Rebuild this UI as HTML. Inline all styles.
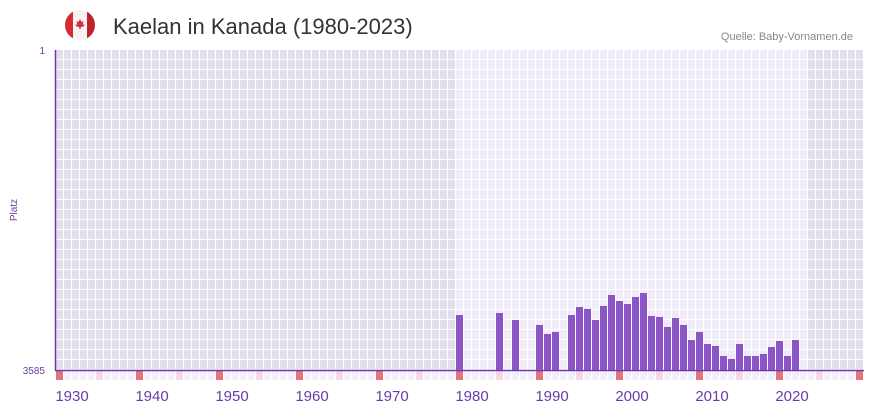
<!DOCTYPE html>
<html><head><meta charset="utf-8"><style>
body{margin:0;background:#fff;width:873px;height:412px;overflow:hidden;font-family:"Liberation Sans",sans-serif}
</style></head><body>
<svg width="873" height="412" xmlns="http://www.w3.org/2000/svg">
<defs>
<pattern id="pd" x="56" y="50" width="8" height="10" patternUnits="userSpaceOnUse"><rect width="8" height="10" fill="#fff"/><rect width="7" height="9" fill="#e3deec"/></pattern>
<pattern id="pl" x="56" y="50" width="8" height="10" patternUnits="userSpaceOnUse"><rect width="8" height="10" fill="#fff"/><rect width="7" height="9" fill="#efebf8"/></pattern>
<pattern id="pb" x="56" y="371" width="8" height="9" patternUnits="userSpaceOnUse"><rect width="8" height="9" fill="#fff"/><rect width="7" height="9" fill="#f3eefb"/></pattern>
<clipPath id="fc"><circle cx="80" cy="25" r="15"/></clipPath>
</defs>
<g clip-path="url(#fc)">
<rect x="65" y="10" width="30" height="30" fill="#f4f4f4"/>
<rect x="65" y="10" width="8" height="30" fill="#d52b33"/>
<rect x="87" y="10" width="8" height="30" fill="#c0222a"/>
</g>
<path d="M80 19 l1.5 3 2-1 -0.8 4 2-1 -1 2.5 -3 0.5 v2 h-1.4 v-2 l-3-0.5 -1-2.5 2 1 -0.8-4 2 1z" fill="#d52b33"/>
<text x="113" y="34" font-size="22" fill="#333">Kaelan in Kanada (1980-2023)</text>
<text x="853" y="40" font-size="11" fill="#888" text-anchor="end">Quelle: Baby-Vornamen.de</text>
<rect x="56" y="50" width="400" height="320" fill="url(#pd)"/>
<rect x="456" y="50" width="352" height="320" fill="url(#pl)"/>
<rect x="808" y="50" width="56" height="320" fill="url(#pd)"/>
<rect x="56" y="371" width="808" height="9" fill="url(#pb)"/>
<g id="marks"></g>
<line x1="55.5" y1="50" x2="55.5" y2="371" stroke="#6a3aa8" stroke-width="1.5"/>
<line x1="55" y1="370.5" x2="864" y2="370.5" stroke="#6a3aa8" stroke-width="1.5"/>
<g fill="#8b55c8" id="bars"></g>
<text x="45" y="54" font-size="10" fill="#6a3aa8" text-anchor="end">1</text>
<text x="45" y="374" font-size="10" fill="#6a3aa8" text-anchor="end">3585</text>
<text x="17" y="210" font-size="10" fill="#6a3aa8" text-anchor="middle" transform="rotate(-90 17 210)">Platz</text>
<g font-size="15" fill="#6a3aa8" text-anchor="middle" id="xl"></g>
</svg>
<script>
const ns="http://www.w3.org/2000/svg";
const tops={1978:315,1983:313,1985:320,1988:325,1989:334,1990:332,1992:315,1993:307,1994:309,1995:320,1996:306,1997:295,1998:301,1999:304,2000:297,2001:293,2002:316,2003:317,2004:327,2005:318,2006:325,2007:340,2008:332,2009:344,2010:346,2011:356,2012:359,2013:344,2014:356,2015:356,2016:354,2017:347,2018:341,2019:356,2020:340};
const b=document.getElementById('bars');
for(const y in tops){const r=document.createElementNS(ns,'rect');const x=56+(y-1928)*8;r.setAttribute('x',x);r.setAttribute('y',tops[y]);r.setAttribute('width',7);r.setAttribute('height',370-tops[y]);b.appendChild(r);}
const m=document.getElementById('marks');
for(let k=0;k<101;k++){const y=1928+k;let c=null;if(y%10==8)c='#e5737b';else if(y%10==3)c='#f3d8e2';if(c){const r=document.createElementNS(ns,'rect');r.setAttribute('x',56+k*8);r.setAttribute('y',371);r.setAttribute('width',7);r.setAttribute('height',9);r.setAttribute('fill',c);m.appendChild(r);}}
const xl=document.getElementById('xl');
for(let y=1930;y<=2020;y+=10){const t=document.createElementNS(ns,'text');t.setAttribute('x',72+(y-1930)*8);t.setAttribute('y',401);t.textContent=y;xl.appendChild(t);}
</script>
</body></html>
